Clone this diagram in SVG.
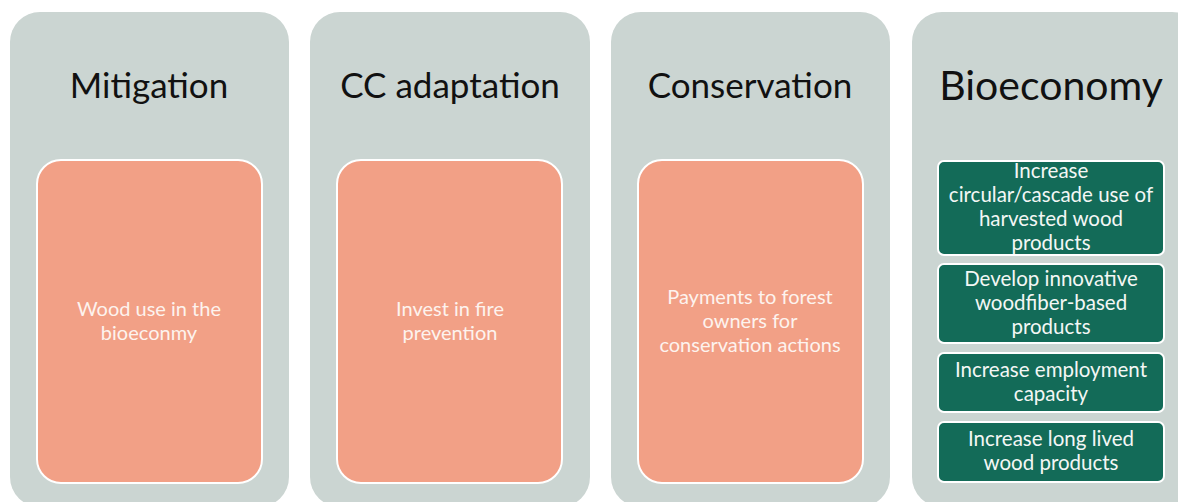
<svg xmlns="http://www.w3.org/2000/svg" width="1178" height="502" viewBox="0 0 1178 502">
<style>
.panel{fill:#cbd5d2}
.orange{fill:#f2a086;stroke:#ffffff;stroke-width:2}
.green{fill:#136b58;stroke:#ffffff;stroke-width:2}
.title{font-family:"Lato","Liberation Sans",sans-serif;font-size:35px;fill:#111111;text-anchor:middle}
.otext{font-family:"Lato","Liberation Sans",sans-serif;font-size:20px;fill:#fdf3ee;text-anchor:middle}
.gtext{font-family:"Lato","Liberation Sans",sans-serif;font-size:20.5px;fill:#f3f7f5;text-anchor:middle}
</style>
<rect width="1178" height="502" fill="#ffffff"/>
<g id="mitigation">
<rect class="panel" x="10" y="12" width="279" height="495" rx="30"/>
<text class="title" x="149" y="98">Mitigation</text>
<rect class="orange" x="37" y="160" width="225" height="323" rx="24"/>
<text class="otext" x="149" y="316">Wood use in the</text>
<text class="otext" x="149" y="340">bioeconmy</text>
</g>
<g id="adaptation">
<rect class="panel" x="310" y="12" width="280" height="495" rx="30"/>
<text class="title" x="450" y="98">CC adaptation</text>
<rect class="orange" x="337" y="160" width="225" height="323" rx="24"/>
<text class="otext" x="450" y="316">Invest in fire</text>
<text class="otext" x="450" y="340">prevention</text>
</g>
<g id="conservation">
<rect class="panel" x="611" y="12" width="279" height="495" rx="30"/>
<text class="title" x="750" y="98">Conservation</text>
<rect class="orange" x="638" y="160" width="225" height="323" rx="24"/>
<text class="otext" x="750" y="304">Payments to forest</text>
<text class="otext" x="750" y="328">owners for</text>
<text class="otext" x="750" y="352">conservation actions</text>
</g>
<g id="bioeconomy">
<rect class="panel" x="912" y="12" width="290" height="495" rx="30"/>
<text class="title" x="1051" y="100" style="font-size:41px">Bioeconomy</text>
<g id="b1">
<rect class="green" x="938" y="161" width="226" height="94" rx="6"/>
<text class="gtext" x="1051" y="178">Increase</text>
<text class="gtext" x="1051" y="202">circular/cascade use of</text>
<text class="gtext" x="1051" y="226">harvested wood</text>
<text class="gtext" x="1051" y="250">products</text>
</g>
<g id="b2">
<rect class="green" x="938" y="264" width="226" height="79" rx="6"/>
<text class="gtext" x="1051" y="286">Develop innovative</text>
<text class="gtext" x="1051" y="310">woodfiber-based</text>
<text class="gtext" x="1051" y="334">products</text>
</g>
<g id="b3">
<rect class="green" x="938" y="353" width="226" height="59" rx="6"/>
<text class="gtext" x="1051" y="377">Increase employment</text>
<text class="gtext" x="1051" y="401">capacity</text>
</g>
<g id="b4">
<rect class="green" x="938" y="422" width="226" height="60" rx="6"/>
<text class="gtext" x="1051" y="446">Increase long lived</text>
<text class="gtext" x="1051" y="470">wood products</text>
</g>
</g>
<g id="connectors"></g>
</svg>
